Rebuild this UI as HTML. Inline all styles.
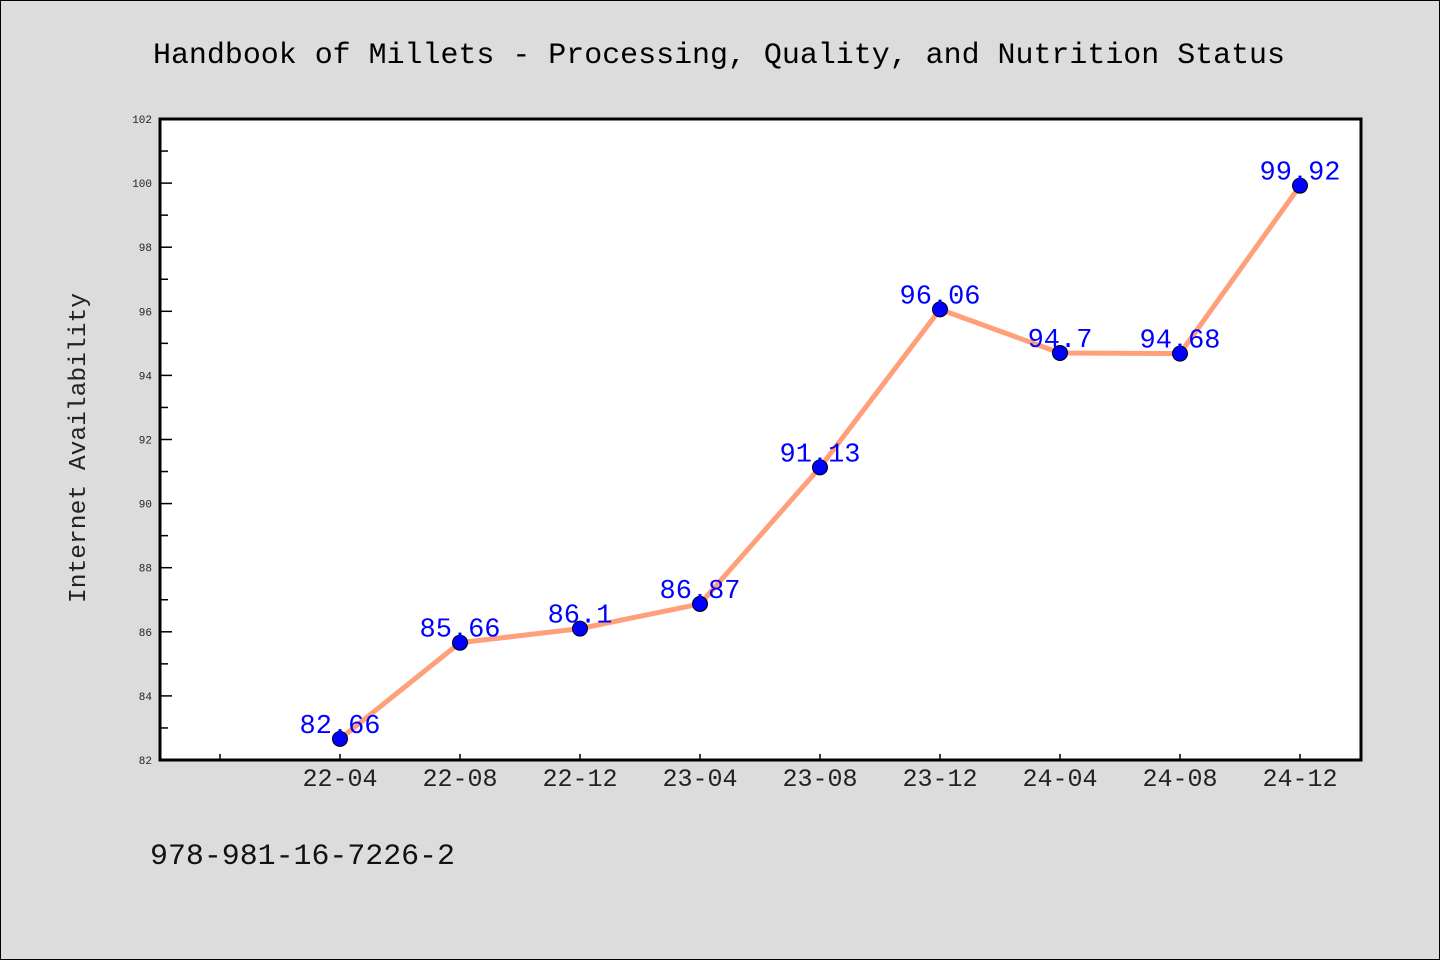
<!DOCTYPE html>
<html><head><meta charset="utf-8"><style>
html,body{margin:0;padding:0;background:#dcdcdc;}
svg{display:block;font-family:"WenQuanYi Zen Hei Mono","Liberation Mono",monospace;}
</style></head><body>
<svg id="chart" width="1440" height="960">
<rect x="0.5" y="0.5" width="1439" height="959" fill="#dcdcdc" stroke="#000"/>
<text x="153" y="63" font-size="30" textLength="1132" lengthAdjust="spacingAndGlyphs" fill="#000">Handbook of Millets - Processing, Quality, and Nutrition Status</text>
<text x="85" y="448" font-size="24" text-anchor="middle" textLength="310" lengthAdjust="spacingAndGlyphs" fill="#222" transform="rotate(-90 85 448)">Internet Availability</text>
<text x="150" y="864" font-size="30" textLength="305" lengthAdjust="spacingAndGlyphs" fill="#111">978-981-16-7226-2</text>
<rect x="160" y="119" width="1201" height="641" fill="#fff"/>
<g id="axes"></g>
<g id="series"></g>
<rect x="160" y="119" width="1201" height="641" fill="none" stroke="#000" stroke-width="3"/>
</svg>
<script>
const categories = ["22-04","22-08","22-12","23-04","23-08","23-12","24-04","24-08","24-12"];
const values = [82.66,85.66,86.1,86.87,91.13,96.06,94.7,94.68,99.92];
const labels = ["82.66","85.66","86.1","86.87","91.13","96.06","94.7","94.68","99.92"];
const yTicks = [82,84,86,88,90,92,94,96,98,100,102];
const NS="http://www.w3.org/2000/svg";
const x0=160,x1=1361,yTop=119,yBot=760,yMin=82,yMax=102;
function x(i){return 340+120*i;}
function y(v){return yBot-(v-yMin)/(yMax-yMin)*(yBot-yTop);}
function mk(tag,attrs,parent){const e=document.createElementNS(NS,tag);for(const k in attrs)e.setAttribute(k,attrs[k]);parent.appendChild(e);return e;}
const axes=document.getElementById('axes'),series=document.getElementById('series');
yTicks.forEach((t,k)=>{
  const yy=y(t);
  const l=mk('line',{x1:x0,x2:x0+12,y1:yy,y2:yy,stroke:'#000','stroke-width':1.5},axes);
  
  
  const tx=mk('text',{x:152,y:yy+4,'font-size':11,'text-anchor':'end',fill:'#222'},axes);
  tx.textContent=t;
  
  
  if(k<yTicks.length-1){const ym=y(t+1);
    const m=mk('line',{x1:x0,x2:x0+8,y1:ym,y2:ym,stroke:'#000','stroke-width':1.5},axes);
    
    }
});
for(let i=-1;i<categories.length;i++){
  const xx=x(i);
  const l=mk('line',{x1:xx,x2:xx,y1:yBot,y2:yBot-6,stroke:'#000','stroke-width':1.5},axes);
  
  
  if(i>=0){const tx=mk('text',{x:xx,y:786,'font-size':25,'text-anchor':'middle',textLength:75,lengthAdjust:'spacingAndGlyphs',fill:'#222'},axes);
    tx.textContent=categories[i];
    
    }
}
const pl=mk('polyline',{points:values.map((v,i)=>x(i)+','+y(v)).join(' '),fill:'none',stroke:'#ffa07a','stroke-width':5},series);


values.forEach((v,i)=>{
  const c=mk('circle',{cx:x(i),cy:y(v),r:7.5,fill:'#0000ff',stroke:'#000','stroke-width':1},series);
  
  
  const t=mk('text',{x:x(i),y:y(v)-6,'font-size':27,'text-anchor':'middle',textLength:labels[i].length*16.2,lengthAdjust:'spacingAndGlyphs',fill:'#0000ff'},series);
  t.textContent=labels[i];
  
  
});
</script>
</body></html>
